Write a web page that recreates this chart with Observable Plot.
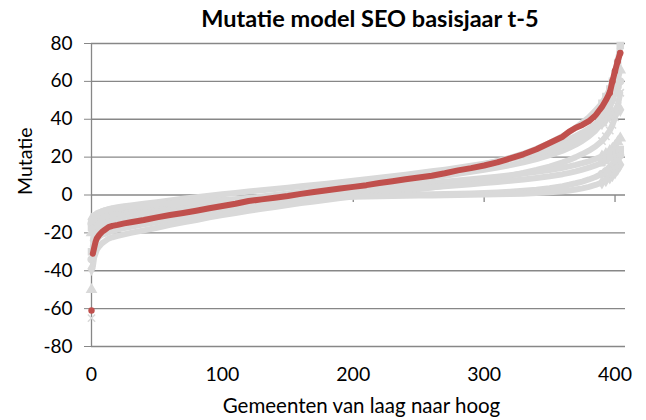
<!DOCTYPE html>
<html>
<head>
<meta charset="utf-8">
<script src="https://cdn.jsdelivr.net/npm/d3@7"></script>
<script src="https://cdn.jsdelivr.net/npm/@observablehq/plot@0.6"></script>
<style>
  html, body { margin: 0; padding: 0; background: #fff; }
  #title { width: 646px; height: 34px; line-height: 36px; box-sizing: border-box; padding-left: 94px;
           text-align: center; font-family: Lato, "Open Sans", sans-serif; font-weight: bold; font-size: 23.5px; color: #000; white-space: nowrap; }
</style>
</head>
<body>
<div id="title">Mutatie model SEO basisjaar t-5</div>
<div id="chart"></div>
<script>
const titleText = "Mutatie model SEO basisjaar t-5";
const xLabel = "Gemeenten van laag naar hoog";
const yLabel = "Mutatie";
const xTicks = [0, 100, 200, 300, 400];
const yTicks = [-80, -60, -40, -20, 0, 20, 40, 60, 80];

// rank of the gemeente (sorted low to high) at which values were read
const ranks = [0,1,2,3,4,6,8,10,13,16,20,25,30,40,50,60,70,80,90,100,110,120,130,140,150,160,170,180,190,200,210,220,230,240,250,260,270,280,290,300,310,320,330,340,350,360,365,370,375,380,385,390,393,396,398,400,402,404];

// highlighted model (red)
const red = [-61,-31,-28,-25,-23,-21,-19.5,-18.5,-17,-16.3,
  -15.8,-15,-14.4,-13.2,-11.8,-10.6,-9.5,-8.3,-7,-5.8,
  -4.6,-3.2,-2.3,-1.4,-0.5,0.6,1.6,2.5,3.4,4.3,
  5.2,6.3,7.3,8.3,9.2,10.2,11.5,13,14.2,15.6,
  17.2,19.3,21.5,24.2,27.5,30.8,
  33.5,35.5,37,39,42,46.5,
  50,54,60,65.5,70.5,75];

// other models (grey)
const grayA = [-30,-30,-27,-25,-23.5,-22,-21,-20.5,-19.8,-19,
  -18.3,-17.5,-16.8,-15.5,-14.3,-13,-11.8,-10.6,-9.4,-8.2,
  -7,-5.8,-4.7,-3.6,-2.5,-1.4,-0.3,0.8,1.9,3,
  4.1,5.2,6.4,7.6,8.8,10,11.3,12.7,14.2,15.8,
  17.6,19.6,21.8,24.4,27.5,31,
  33.2,35.6,38.2,41,44.5,48.5,
  52,56,60,64,70,79];
const grayB = [-65,-38,-33,-31,-29,-27,-25.5,-24.5,-23,-22.3,
  -21.6,-20.8,-20,-18.7,-17.3,-15.8,-14.4,-13.2,-11.8,-10.6,
  -9.5,-8.4,-7.3,-6.3,-5.3,-4.3,-3.4,-2.5,-1.6,-0.8,
  0,0.8,1.6,2.4,3.2,4,4.9,5.8,6.8,7.9,
  9,10.2,11.6,13.2,15,17.2,
  18.5,20,21.6,23.4,25.6,28.5,
  31,34,37,41,47,54];
const grayC = [-50,-27,-24,-22,-20.5,-19,-18,-17.2,-16.3,-15.6,
  -14.9,-14.1,-13.4,-12.1,-10.9,-9.8,-8.7,-7.6,-6.5,-5.4,
  -4.4,-3.4,-2.4,-1.5,-0.6,0.3,1.2,2.1,3,3.9,
  4.8,5.7,6.6,7.5,8.4,9.3,10.2,11.2,12.2,13.3,
  14.5,15.8,17.3,19,21,23.4,
  24.9,26.6,28.6,31,34,38,
  41.5,46,51,56,61,66];
const grayD = [-34,-24,-21,-19,-17.5,-16,-15,-14.2,-13.3,-12.6,
  -11.9,-11.1,-10.4,-9.2,-8.1,-7.1,-6.1,-5.1,-4.2,-3.3,
  -2.4,-1.6,-0.8,0,0.8,1.6,2.4,3.2,4,4.9,
  5.8,6.7,7.7,8.7,9.8,10.9,12.1,13.4,14.8,16.3,
  17.9,19.6,21.4,23.3,25.5,28,
  29.5,31.2,33,35,37.5,41,
  44,48,51,54,57,60];
const grayE = [-39,-15,-12.5,-11,-10.2,-9.3,-8.6,-8.1,-7.5,-7,
  -6.5,-5.9,-5.5,-4.6,-3.8,-2.9,-2,-1.2,-0.4,0.4,
  1.1,1.8,2.5,3.2,3.9,4.6,5.3,6,6.8,7.6,
  8.3,9.1,9.9,10.7,11.6,12.5,13.4,14.4,15.4,16.5,
  17.7,19,20.4,22,23.8,26,
  27.3,28.8,30.5,32.5,35,38,
  40,42,43,44,44.5,45];
const grayF = [-20,-17,-15.5,-14.5,-13.7,-12.8,-12.1,-11.5,-10.8,-10.2,
  -9.6,-9,-8.5,-7.6,-6.8,-6,-5.3,-4.6,-3.9,-3.2,
  -2.6,-2,-1.4,-0.8,-0.2,0.4,1,1.6,2.2,2.8,
  3.4,4,4.6,5.2,5.8,6.4,7,7.6,8.3,9,
  9.7,10.5,11.3,12.2,13.2,14.4,
  15.1,15.9,16.8,17.8,19,20.5,
  21.8,23.3,24.5,26,28,30];
const grayG = [-17,-14,-12.8,-12,-11.4,-10.7,-10.1,-9.6,-9,-8.5,
  -8,-7.5,-7,-6.2,-5.5,-4.9,-4.3,-3.7,-3.2,-2.7,
  -2.2,-1.7,-1.3,-0.9,-0.5,-0.1,0.3,0.7,1.1,1.5,
  1.9,2.3,2.7,3.1,3.6,4.1,4.6,5.1,5.7,6.3,
  6.9,7.5,8.2,9,9.9,11,
  11.7,12.5,13.4,14.4,15.6,17,
  18.2,19.6,20.8,22,23,24];
const grayH = [-15,-13,-12,-11.3,-10.7,-10,-9.4,-8.9,-8.3,-7.8,
  -7.3,-6.8,-6.4,-5.7,-5.1,-4.6,-4.1,-3.7,-3.3,-2.9,
  -2.6,-2.3,-2,-1.7,-1.5,-1.3,-1.1,-0.9,-0.7,-0.5,
  -0.35,-0.2,-0.05,0.1,0.25,0.4,0.55,0.7,0.85,1,
  1.3,1.7,2.2,2.8,3.6,4.7,
  5.4,6.2,7.1,8.2,9.5,11.2,
  12.6,14.3,15.8,17.5,19.2,21];
const grayI = [-13,-11.5,-10.8,-10.2,-9.7,-9.1,-8.6,-8.1,-7.6,-7.2,
  -6.8,-6.4,-6,-5.4,-4.8,-4.3,-3.9,-3.5,-3.2,-2.9,
  -2.6,-2.4,-2.2,-2,-1.8,-1.6,-1.4,-1.25,-1.1,-0.95,
  -0.8,-0.65,-0.5,-0.4,-0.3,-0.2,-0.1,0,0.1,0.2,
  0.35,0.5,0.7,1,1.4,2,
  2.4,2.9,3.5,4.3,5.3,6.6,
  7.8,9.3,10.5,12,13.8,16];

const grays = [grayA, grayB, grayC, grayD, grayE, grayF, grayG, grayH, grayI];
const graySymbols = ["square", "times", "triangle", "circle", "diamond", "triangle", "square", "circle", "diamond"];

const RED = "#c0504d";
const GRAY = "#d9d9d9";
const GRID = "#878787";

const toRows = (vals) => ranks.map((r, i) => ({rank: r, value: vals[i]}));

const tickDown = { draw(ctx) { ctx.moveTo(0, 0); ctx.lineTo(0, 7); } };

const marks = [
  Plot.ruleY(yTicks, {stroke: GRID, strokeWidth: 1.3}),
  Plot.ruleX([0], {stroke: GRID, strokeWidth: 1.3}),
  Plot.dot(xTicks.filter(d => d > 0), {x: d => d, y: 0, symbol: tickDown, stroke: GRID, strokeWidth: 1.3, fill: "none"}),
  Plot.axisY({ticks: yTicks, tickSize: 7, tickPadding: 12, tickFormat: d => String(d), stroke: GRID, fill: "#000", label: null}),
  Plot.axisX({ticks: xTicks, tickSize: 0, tickPadding: 21, tickFormat: d => String(d), fill: "#000", label: null, fontSize: 19.5})
];

grays.forEach((g, k) => {
  const rows = toRows(g);
  marks.push(Plot.line(rows.filter(d => d.rank >= 1), {x: "rank", y: "value", stroke: GRAY, strokeWidth: 6, strokeLinecap: "round", strokeLinejoin: "round"}));
  marks.push(Plot.dot(rows.filter(d => d.rank < 1 || d.rank >= 390), {x: "rank", y: "value", symbol: graySymbols[k], fill: GRAY, stroke: GRAY, r: 3.4}));
});

const redRows = toRows(red);
marks.push(Plot.line(redRows.filter(d => d.rank >= 1), {x: "rank", y: "value", stroke: RED, strokeWidth: 6, strokeLinecap: "round", strokeLinejoin: "round"}));
marks.push(Plot.dot(redRows.filter(d => d.rank < 1 || d.rank >= 396), {x: "rank", y: "value", fill: RED, r: 3.2}));

marks.push(Plot.text([xLabel], {frameAnchor: "bottom", dy: 60, dx: 3, text: d => d, fontSize: 20.5, fill: "#000", lineAnchor: "middle"}));
marks.push(Plot.text([yLabel], {frameAnchor: "left", dx: -66, rotate: -90, text: d => d, fontSize: 19.5, fill: "#000", lineAnchor: "middle"}));

const chart = Plot.plot({
  width: 646,
  height: 386,
  marginLeft: 91,
  marginRight: 21,
  marginTop: 9,
  marginBottom: 74,
  style: {fontFamily: "Lato, 'Open Sans', sans-serif", fontSize: "19px", background: "#fff", color: "#000", overflow: "visible"},
  x: {domain: [0, 408]},
  y: {domain: [-80, 80]},
  marks
});
document.getElementById("chart").appendChild(chart);
</script>
</body>
</html>
